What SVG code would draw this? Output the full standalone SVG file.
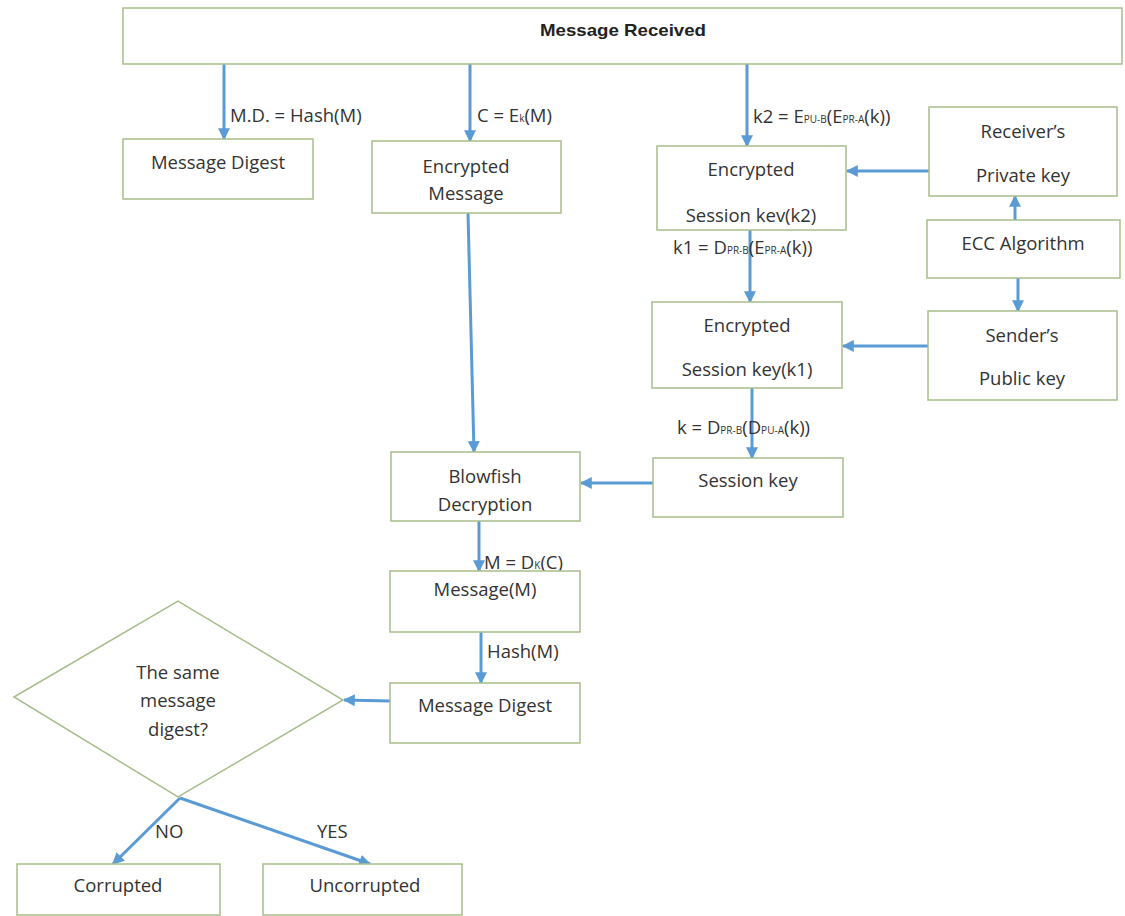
<svg xmlns="http://www.w3.org/2000/svg" width="1125" height="916" viewBox="0 0 1125 916">
<style>
.box{fill:#fff;stroke:#a8bd8c;stroke-width:1.5}
.t{font-family:"Open Sans","Liberation Sans",sans-serif;font-size:18.5px;fill:#333;text-anchor:middle}
.l{font-family:"Open Sans","Liberation Sans",sans-serif;font-size:18.5px;fill:#333}
.s{font-size:10px}
.c{fill:none;stroke:#5b9bd5;stroke-width:3}
</style>
<defs>
<marker id="ah" viewBox="0 0 10 10" refX="9" refY="5" markerWidth="4" markerHeight="4" orient="auto" markerUnits="strokeWidth">
<path d="M0,0 L10,5 L0,10 z" fill="#5b9bd5"/>
</marker>
</defs>
<rect width="1125" height="916" fill="#fff"/>
<g id="connectors">
<line class="c" x1="224" y1="64" x2="224" y2="139" marker-end="url(#ah)"/>
<line class="c" x1="470" y1="64" x2="470" y2="141" marker-end="url(#ah)"/>
<line class="c" x1="747" y1="64" x2="747" y2="146" marker-end="url(#ah)"/>
<line class="c" x1="929" y1="171" x2="847" y2="171" marker-end="url(#ah)"/>
<line class="c" x1="1015" y1="220" x2="1015" y2="196" marker-end="url(#ah)"/>
<line class="c" x1="750" y1="230" x2="750" y2="302" marker-end="url(#ah)"/>
<line class="c" x1="1018" y1="278" x2="1018" y2="311" marker-end="url(#ah)"/>
<line class="c" x1="928" y1="346" x2="843" y2="346" marker-end="url(#ah)"/>
<line class="c" x1="752" y1="388" x2="752" y2="458" marker-end="url(#ah)"/>
<line class="c" x1="653" y1="483" x2="581" y2="483" marker-end="url(#ah)"/>
<line class="c" x1="468" y1="213" x2="474" y2="452" marker-end="url(#ah)"/>
<line class="c" x1="479" y1="521" x2="479" y2="571" marker-end="url(#ah)"/>
<line class="c" x1="481" y1="632" x2="481" y2="683" marker-end="url(#ah)"/>
<line class="c" x1="390" y1="701" x2="344" y2="700" marker-end="url(#ah)"/>
<line class="c" x1="180" y1="798" x2="113" y2="864" marker-end="url(#ah)"/>
<line class="c" x1="180" y1="798" x2="370" y2="864" marker-end="url(#ah)"/>
<text class="l" x="230" y="122">M.D. = Hash(M)</text>
<text class="l" x="477" y="122">C = E<tspan class="s">k</tspan>(M)</text>
<text class="l" x="753" y="123">k2 = E<tspan class="s">PU-B</tspan>(E<tspan class="s">PR-A</tspan>(k))</text>
<text class="l" x="673" y="254">k1 = D<tspan class="s">PR-B</tspan>(E<tspan class="s">PR-A</tspan>(k))</text>
<text class="l" x="677" y="434">k = D<tspan class="s">PR-B</tspan>(D<tspan class="s">PU-A</tspan>(k))</text>
<text class="l" x="484" y="569">M = D<tspan class="s">K</tspan>(C)</text>
<text class="l" x="487" y="658">Hash(M)</text>
<text class="l" x="155" y="838">NO</text>
<text class="l" x="317" y="838">YES</text>
</g>
<g id="n-received"><rect class="box" x="123" y="8" width="999" height="56"/><text x="623" y="36" textLength="166" lengthAdjust="spacingAndGlyphs" style="font-family:'Liberation Sans',sans-serif;font-size:17px;font-weight:bold;fill:#222;text-anchor:middle">Message Received</text></g>
<g id="n-digest1"><rect class="box" x="123" y="139" width="190" height="60"/><text class="t" x="218" y="169">Message Digest</text></g>
<g id="n-encmsg"><rect class="box" x="372" y="141" width="189" height="72"/><text class="t" x="466" y="173">Encrypted</text><text class="t" x="466" y="200">Message</text></g>
<g id="n-k2"><rect class="box" x="657" y="146" width="189" height="84"/><text class="t" x="751" y="176">Encrypted</text><text class="t" x="751" y="222">Session kev(k2)</text></g>
<g id="n-privkey"><rect class="box" x="929" y="107" width="188" height="89"/><text class="t" x="1023" y="138">Receiver’s</text><text class="t" x="1023" y="182">Private key</text></g>
<g id="n-ecc"><rect class="box" x="927" y="220" width="193" height="58"/><text class="t" x="1023" y="250">ECC Algorithm</text></g>
<g id="n-k1"><rect class="box" x="652" y="302" width="190" height="86"/><text class="t" x="747" y="332">Encrypted</text><text class="t" x="747" y="376">Session key(k1)</text></g>
<g id="n-pubkey"><rect class="box" x="928" y="311" width="189" height="89"/><text class="t" x="1022" y="342">Sender’s</text><text class="t" x="1022" y="385">Public key</text></g>
<g id="n-session"><rect class="box" x="653" y="458" width="190" height="59"/><text class="t" x="748" y="487">Session key</text></g>
<g id="n-blowfish"><rect class="box" x="391" y="452" width="189" height="69"/><text class="t" x="485" y="483">Blowfish</text><text class="t" x="485" y="511">Decryption</text></g>
<g id="n-message"><rect class="box" x="390" y="571" width="190" height="61"/><text class="t" x="485" y="596">Message(M)</text></g>
<g id="n-digest2"><rect class="box" x="390" y="683" width="190" height="60"/><text class="t" x="485" y="712">Message Digest</text></g>
<g id="n-decision"><polygon class="box" points="14,697 178,601 343,700 178,797"/><text class="t" x="178" y="679">The same</text><text class="t" x="178" y="707">message</text><text class="t" x="178" y="736">digest?</text></g>
<g id="n-corrupted"><rect class="box" x="17" y="864" width="203" height="51"/><text class="t" x="118" y="892">Corrupted</text></g>
<g id="n-uncorrupted"><rect class="box" x="263" y="864" width="199" height="51"/><text class="t" x="365" y="892">Uncorrupted</text></g>
</svg>
